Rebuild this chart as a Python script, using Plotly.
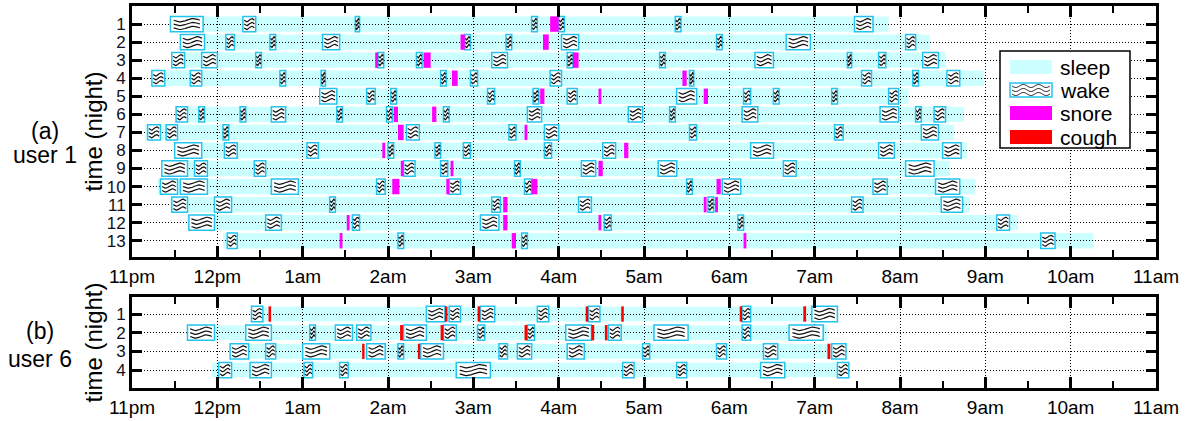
import numpy as np
import plotly.graph_objects as go

# ---------------------------------------------------------------------------
# Data: all times are minutes after 11pm; one entry (list) per night.
# ---------------------------------------------------------------------------
hour_labels = ["11pm", "12pm", "1am", "2am", "3am", "4am", "5am", "6am",
               "7am", "8am", "9am", "10am", "11am"]

# user 1 -- 13 nights
u1_sleep = [(27, 532), (34, 561), (28, 572), (13, 599), (132, 546), (31, 585),
            (9, 578), (30, 587), (21, 575), (18, 593), (27, 589), (39, 623),
            (64, 676)]
u1_wake = [
    [(27, 50), (78, 87), (157, 160), (281, 285), (300, 304), (382, 386), (508, 521)],
    [(34, 51), (66, 72), (97, 101), (134, 146), (234, 238), (263, 267), (302, 314),
     (411, 415), (460, 477), (544, 551)],
    [(28, 37), (49, 60), (87, 91), (173, 177), (200, 204), (253, 264), (306, 310),
     (371, 375), (438, 451), (503, 506), (525, 530), (556, 567)],
    [(14, 23), (41, 49), (104, 108), (133, 136), (217, 221), (238, 243), (294, 302),
     (392, 395), (513, 520), (549, 553), (573, 582)],
    [(132, 144), (165, 171), (182, 186), (250, 255), (282, 286), (306, 313),
     (383, 397), (430, 435), (451, 455), (492, 496), (532, 539)],
    [(31, 39), (47, 51), (76, 80), (98, 108), (144, 148), (179, 183), (219, 223),
     (278, 288), (349, 359), (378, 382), (429, 440), (526, 539), (551, 555), (564, 572)],
    [(11, 20), (24, 32), (64, 68), (193, 202), (265, 270), (290, 300), (392, 397),
     (494, 500), (555, 567)],
    [(30, 49), (65, 74), (123, 131), (180, 184), (213, 217), (233, 238), (290, 295),
     (331, 340), (435, 451), (525, 536), (570, 583)],
    [(21, 39), (44, 53), (86, 94), (191, 199), (217, 222), (269, 273), (316, 326),
     (370, 383), (458, 467), (544, 564)],
    [(20, 32), (34, 53), (98, 117), (172, 178), (223, 231), (276, 281), (390, 394),
     (415, 428), (521, 531), (565, 582)],
    [(28, 39), (58, 70), (139, 143), (253, 259), (314, 323), (405, 409), (506, 514),
     (569, 584)],
    [(40, 58), (94, 105), (155, 160), (245, 258), (332, 337), (426, 430), (608, 617)],
    [(67, 74), (187, 191), (274, 278), (639, 649)],
]
u1_snore = [
    [(294, 300)],
    [(231, 234), (289, 293)],
    [(171, 173), (205, 210), (310, 314)],
    [(225, 229), (387, 390)],
    [(287, 290), (328, 330), (402, 405)],
    [(184, 187), (211, 214)],
    [(187, 191), (276, 278)],
    [(176, 178), (346, 349)],
    [(189, 191), (224, 226), (328, 331)],
    [(183, 188), (221, 223), (281, 285), (411, 414)],
    [(261, 264), (402, 404), (410, 412)],
    [(151, 153), (261, 264), (328, 330)],
    [(146, 148), (267, 270), (430, 432)],
]

# user 6 -- 4 nights
u6_sleep = [(84, 496), (39, 489), (69, 502), (56, 504)]
u6_wake = [
    [(84, 92), (207, 220), (223, 231), (245, 255), (285, 293), (321, 329), (429, 435),
     (478, 496)],
    [(39, 58), (80, 98), (125, 129), (143, 155), (158, 168), (191, 207), (219, 228),
     (243, 248), (278, 283), (305, 323), (335, 344), (367, 391), (429, 435), (462, 486)],
    [(69, 82), (94, 101), (120, 139), (165, 178), (187, 191), (203, 219), (258, 264),
     (271, 281), (306, 318), (359, 364), (411, 418), (444, 454), (492, 502)],
    [(61, 70), (83, 98), (121, 127), (146, 152), (228, 252), (345, 353), (383, 390),
     (442, 459), (496, 504)],
]
u6_cough = [
    [(96, 97.8), (220, 221.8), (243, 244.8), (319, 320.8), (344, 345.8),
     (427.3, 429), (472, 474)],
    [(188.5, 190.5), (217, 219), (276, 278), (323, 325), (332.5, 334.3)],
    [(161.8, 163.5), (201, 202.6), (489, 491)],
    [],
]

# ---------------------------------------------------------------------------
SLEEP_C = "#ccffff"
WAKE_EDGE = "#22c4ee"
SNORE_C = "#ff00ff"
COUGH_C = "#ff0000"
FONT = "Liberation Sans, Arial, sans-serif"

# plot-area geometry in pixels (used for paper-coordinate decorations)
W, H = 1194, 421
L, R, T, B = 132, 38, 6, 33
PW, PH = W - L - R, H - T - B


def px_x(px):
    return (px - L) / PW


def px_y(py):
    return (H - B - py) / PH


fig = go.Figure()
shapes = []


def add_panel(sleep, wake, marks, mark_color, xa, ya, h_sleep, h_box):
    xref = "x" if xa == "x" else "x2"
    yref = "y" if ya == "y" else "y2"
    # sleep periods: drawn underneath the dotted grid
    for i, (s, e) in enumerate(sleep):
        shapes.append(dict(type="rect", xref=xref, yref=yref, layer="below",
                           x0=s / 60, x1=e / 60,
                           y0=i + 1 - h_sleep / 2, y1=i + 1 + h_sleep / 2,
                           fillcolor=SLEEP_C, line=dict(width=0)))
    # wake boxes
    ys, base, dur = [], [], []
    for i, night in enumerate(wake):
        for s, e in night:
            ys.append(i + 1)
            base.append(s / 60)
            dur.append((e - s) / 60)
    fig.add_trace(go.Bar(y=ys, x=dur, base=base, orientation="h", width=h_box,
                         marker=dict(color="white",
                                     line=dict(color=WAKE_EDGE, width=1.5)),
                         xaxis=xa, yaxis=ya, showlegend=False, hoverinfo="skip"))
    # snore / cough events
    ys, base, dur = [], [], []
    for i, night in enumerate(marks):
        for s, e in night:
            ys.append(i + 1)
            base.append(s / 60)
            dur.append((e - s) / 60)
    fig.add_trace(go.Bar(y=ys, x=dur, base=base, orientation="h", width=h_box,
                         marker=dict(color=mark_color, line=dict(width=0)),
                         xaxis=xa, yaxis=ya, showlegend=False, hoverinfo="skip"))
    # wavy hatching inside each wake box
    t = np.linspace(0, 1, 24)
    wx, wy = [], []
    for i, night in enumerate(wake):
        for s, e in night:
            for off in (-0.25, 0.0, 0.25):
                xx = (s + (e - s) * (0.1 + 0.8 * t)) / 60
                yy = i + 1 + off * h_box + 0.09 * np.sin(2 * np.pi * t)
                wx.extend(xx.tolist())
                wy.extend(yy.tolist())
                wx.append(None)
                wy.append(None)
    fig.add_trace(go.Scatter(x=wx, y=wy, mode="lines",
                             line=dict(color="#111111", width=1.2),
                             xaxis=xa, yaxis=ya, showlegend=False,
                             hoverinfo="skip"))


add_panel(u1_sleep, u1_wake, u1_snore, SNORE_C, "x", "y", 0.85, 0.85)
add_panel(u6_sleep, u6_wake, u6_cough, COUGH_C, "x2", "y2", 0.78, 0.82)

xaxis_common = dict(
    range=[0, 12], tickmode="array", tickvals=list(range(13)), ticktext=hour_labels,
    ticks="inside", ticklen=11, tickwidth=3, tickcolor="black",
    showline=True, linecolor="black", linewidth=3, mirror="ticks",
    showgrid=True, gridcolor="#000000", gridwidth=1, griddash="1px,2px",
    zeroline=False, automargin=False,
    tickfont=dict(family=FONT, size=19, color="black"),
    minor=dict(dtick=0.5, tick0=0, ticks="inside", ticklen=7, tickwidth=2,
               tickcolor="black", showgrid=False),
)
yaxis_common = dict(
    ticks="inside", ticklen=10, tickwidth=3, tickcolor="black",
    showline=True, linecolor="black", linewidth=3, mirror="ticks",
    showgrid=True, gridcolor="#000000", gridwidth=1, griddash="1px,2px",
    zeroline=False, automargin=False, tickmode="array",
    tickfont=dict(family=FONT, size=17, color="#111122"),
)

top_lo = px_y(257)
bot_hi = px_y(297)

fig.update_layout(
    xaxis=dict(xaxis_common, anchor="y", domain=[0, 1]),
    yaxis=dict(yaxis_common, anchor="x", domain=[top_lo, 1],
               range=[13.9, 0.0], tickvals=list(range(1, 14)),
               ticktext=[str(i) for i in range(1, 14)]),
    xaxis2=dict(xaxis_common, anchor="y2", domain=[0, 1]),
    yaxis2=dict(yaxis_common, anchor="x2", domain=[0, bot_hi],
                range=[4.96, 0.09], tickvals=[1, 2, 3, 4],
                ticktext=["1", "2", "3", "4"]),
    barmode="overlay",
    width=W, height=H,
    margin=dict(l=L, r=R, t=T, b=B, pad=0),
    paper_bgcolor="white", plot_bgcolor="white",
    template="none",
    showlegend=False,
    font=dict(family=FONT, color="black"),
)

# panel labels and axis titles
ann = []
for text, cx, cy in [("(a)", 45, 131), ("user 1", 45, 155),
                     ("(b)", 40, 331), ("user 6", 40, 359)]:
    ann.append(dict(text=text, x=px_x(cx), y=px_y(cy), xref="paper", yref="paper",
                    xanchor="center", yanchor="middle", showarrow=False,
                    font=dict(family=FONT, size=23, color="black")))
for cy in [(6 + 257) / 2, (297 + 388) / 2]:
    ann.append(dict(text="time (night)", x=px_x(93), y=px_y(cy), xref="paper",
                    yref="paper", xanchor="center", yanchor="middle",
                    textangle=-90, showarrow=False,
                    font=dict(family=FONT, size=24, color="black")))

# legend box
shapes.append(dict(type="rect", xref="paper", yref="paper", layer="above",
                   x0=px_x(1000), x1=px_x(1130), y0=px_y(148), y1=px_y(51),
                   fillcolor="white", line=dict(color="black", width=1.5)))
legend_items = [("sleep", 60, 74), ("wake", 83, 97), ("snore", 106, 120),
                ("cough", 130, 144)]
legend_fill = {"sleep": SLEEP_C, "wake": "white", "snore": SNORE_C,
               "cough": COUGH_C}
for name, y0, y1 in legend_items:
    edge = dict(color=WAKE_EDGE, width=1.5) if name == "wake" else dict(width=0)
    shapes.append(dict(type="rect", xref="paper", yref="paper", layer="above",
                       x0=px_x(1010), x1=px_x(1052), y0=px_y(y1), y1=px_y(y0),
                       fillcolor=legend_fill[name], line=edge))
    ann.append(dict(text=name, x=px_x(1059), y=px_y((y0 + y1) / 2 + 0.5),
                    xref="paper", yref="paper", xanchor="left", yanchor="middle",
                    showarrow=False, borderpad=0,
                    font=dict(family=FONT, size=21, color="black")))
    if name == "wake":
        tt = np.linspace(0, 1, 60)
        for off in (-4.0, 0.0, 4.0):
            pts = [(px_x(1012 + 38 * v), px_y((y0 + y1) / 2 + off
                                               + 1.5 * np.sin(2 * np.pi * 2.5 * v)))
                   for v in tt]
            path = "M " + " L ".join(f"{a:.5f},{b:.5f}" for a, b in pts)
            shapes.append(dict(type="path", xref="paper", yref="paper",
                               layer="above", path=path,
                               line=dict(color="#111111", width=1)))

fig.update_layout(shapes=shapes, annotations=ann)
fig.write_html("out.html")
